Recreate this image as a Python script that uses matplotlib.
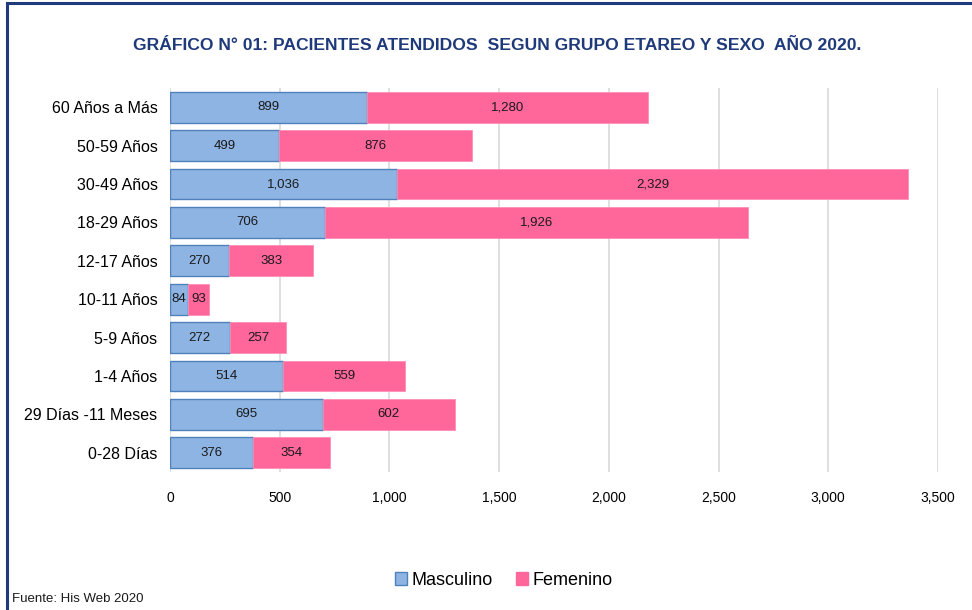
import matplotlib.pyplot as plt
from matplotlib.lines import Line2D
from matplotlib.font_manager import FontProperties

# ==================================
# DATA
# ==================================
grupos = ["60 Años a Más", "50-59 Años", "30-49 Años", "18-29 Años", "12-17 Años",
          "10-11 Años", "5-9 Años", "1-4 Años", "29 Días -11 Meses", "0-28 Días"]
masculino = [899, 499, 1036, 706, 270, 84, 272, 514, 695, 376]
femenino = [1280, 876, 2329, 1926, 383, 93, 257, 559, 602, 354]
xticks = [0, 500, 1000, 1500, 2000, 2500, 3000, 3500]

NAVY = "#1F3A7A"


def font(size, weight="normal"):
    return FontProperties(family="Liberation Sans", stretch="normal",
                          size=size, weight=weight)


# ==================================
# FIGURE
# ==================================
fig = plt.figure(figsize=(9.72, 6.1), dpi=100)
ax = fig.add_axes([0.1749, 0.2262, 0.7901, 0.6295])

y = list(range(len(grupos)))[::-1]

ax.barh(y, masculino, height=0.8, color="#8EB4E3", edgecolor="#4F81BD",
        linewidth=1.0, zorder=3)
ax.barh(y, femenino, left=masculino, height=0.8, color="#FF6699",
        edgecolor="#FF8FB3", linewidth=0.6, zorder=3)

for yi, m, f in zip(y, masculino, femenino):
    ax.text(m / 2, yi, f"{m:,}", ha="center", va="center",
            fontproperties=font(9.5), color="#1a1a1a", zorder=4)
    ax.text(m + f / 2, yi, f"{f:,}", ha="center", va="center",
            fontproperties=font(9.5), color="#1a1a1a", zorder=4)

ax.set_xlim(0, 3500)
ax.set_ylim(-0.5, 9.5)
ax.set_xticks(xticks)
ax.set_xticklabels([f"{t:,}" for t in xticks], fontproperties=font(10))
ax.set_yticks(y)
ax.set_yticklabels(grupos, fontproperties=font(11.5))
ax.tick_params(length=0, pad=9)
ax.tick_params(axis="x", pad=14)
ax.grid(axis="x", color="#D9D9D9", linewidth=1.2, zorder=0)
for s in ax.spines.values():
    s.set_visible(False)

# ==================================
# TITLE / LEGEND / SOURCE
# ==================================
fig.text(0.511, 0.925, "GRÁFICO N° 01: PACIENTES ATENDIDOS  SEGUN GRUPO ETAREO Y SEXO  AÑO 2020.",
         ha="center", va="center", fontproperties=font(12.6, "bold"), color=NAVY)

handles = [
    plt.Rectangle((0, 0), 1, 1, facecolor="#8EB4E3", edgecolor="#4F81BD", linewidth=1.0),
    plt.Rectangle((0, 0), 1, 1, facecolor="#FF6699", edgecolor="#FF6699"),
]
fig.legend(handles, ["Masculino", "Femenino"], loc="center", bbox_to_anchor=(0.518, 0.049),
           ncol=2, frameon=False, prop=font(13),
           handlelength=0.7, handleheight=0.7, handletextpad=0.2, columnspacing=1.3)

fig.text(0.012, 0.018, "Fuente: His Web 2020", ha="left", va="center",
         fontproperties=font(9.5), color="#1a1a1a")

# border (left + top)
fig.add_artist(Line2D([0.0075, 0.0075], [0.0, 0.995], color=NAVY, linewidth=2.2,
                      transform=fig.transFigure))
fig.add_artist(Line2D([0.0075, 1.0], [0.995, 0.995], color=NAVY, linewidth=2.2,
                      transform=fig.transFigure))

fig.savefig("out.png", dpi=100)
